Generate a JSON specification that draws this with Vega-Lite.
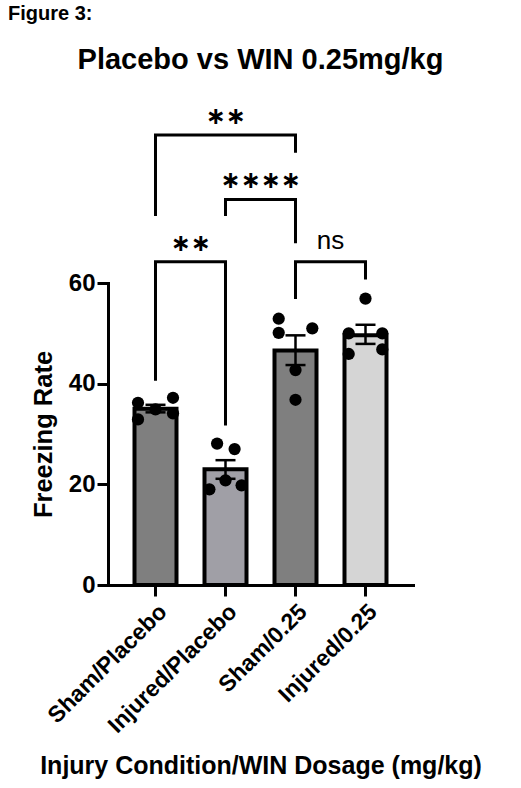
{
  "$schema": "https://vega.github.io/schema/vega-lite/v6.json",
  "padding": {"left": 8, "top": 3, "right": 4, "bottom": 4},
  "title": {"text": "Figure 3:", "anchor": "start", "frame": "group", "dx": -100, "fontSize": 20, "font": "Liberation Sans", "fontWeight": "bold", "color": "black", "offset": 22},
  "config": {
    "view": {"stroke": null},
    "font": "Liberation Sans",
    "axisY": {"labelFontSize": 24, "labelFontWeight": "bold", "labelColor": "black", "tickSize": 11, "tickWidth": 3, "tickColor": "black", "domainWidth": 3, "domainColor": "black", "domainCap": "square", "labelPadding": 2, "titleFontSize": 25.5, "titleFontWeight": "bold", "titleColor": "black", "titlePadding": 12, "grid": false},
    "axisX": {"labelAngle": -45, "labelFontSize": 23, "labelFontWeight": "bold", "labelColor": "black", "tickSize": 11, "tickWidth": 3, "tickColor": "black", "domainWidth": 3, "domainColor": "black", "domainCap": "square", "labelPadding": 4, "titleFontSize": 25, "titleFontWeight": "bold", "titleColor": "black", "titlePadding": 16, "grid": false}
  },
  "datasets": {
    "bars": [
      {"group": "Sham/Placebo", "mean": 35.0, "lo": 34.3, "hi": 35.8},
      {"group": "Injured/Placebo", "mean": 23.0, "lo": 21.1, "hi": 24.8},
      {"group": "Sham/0.25", "mean": 46.6, "lo": 43.7, "hi": 49.6},
      {"group": "Injured/0.25", "mean": 49.6, "lo": 47.9, "hi": 51.7}
    ],
    "points": [
      {"group": "Sham/Placebo", "value": 36.2, "jitter": -0.25},
      {"group": "Sham/Placebo", "value": 32.9, "jitter": -0.25},
      {"group": "Sham/Placebo", "value": 34.9, "jitter": 0},
      {"group": "Sham/Placebo", "value": 37.2, "jitter": 0.25},
      {"group": "Sham/Placebo", "value": 34.1, "jitter": 0.25},
      {"group": "Injured/Placebo", "value": 28.1, "jitter": -0.12},
      {"group": "Injured/Placebo", "value": 27.0, "jitter": 0.13},
      {"group": "Injured/Placebo", "value": 19.0, "jitter": -0.23},
      {"group": "Injured/Placebo", "value": 20.8, "jitter": 0},
      {"group": "Injured/Placebo", "value": 19.8, "jitter": 0.23},
      {"group": "Sham/0.25", "value": 52.9, "jitter": -0.24},
      {"group": "Sham/0.25", "value": 50.1, "jitter": -0.24},
      {"group": "Sham/0.25", "value": 51.0, "jitter": 0.24},
      {"group": "Sham/0.25", "value": 42.7, "jitter": 0},
      {"group": "Sham/0.25", "value": 36.8, "jitter": 0},
      {"group": "Injured/0.25", "value": 56.9, "jitter": 0},
      {"group": "Injured/0.25", "value": 50.0, "jitter": -0.24},
      {"group": "Injured/0.25", "value": 50.0, "jitter": 0.24},
      {"group": "Injured/0.25", "value": 45.9, "jitter": -0.24},
      {"group": "Injured/0.25", "value": 46.8, "jitter": 0.24}
    ],
    "brackets": [
      {"bracket": "a", "seq": 1, "group": "Sham/Placebo", "value": 73.3},
      {"bracket": "a", "seq": 2, "group": "Sham/Placebo", "value": 89.4},
      {"bracket": "a", "seq": 3, "group": "Sham/0.25", "value": 89.4},
      {"bracket": "a", "seq": 4, "group": "Sham/0.25", "value": 85.9},
      {"bracket": "b", "seq": 1, "group": "Injured/Placebo", "value": 73.3},
      {"bracket": "b", "seq": 2, "group": "Injured/Placebo", "value": 76.6},
      {"bracket": "b", "seq": 3, "group": "Sham/0.25", "value": 76.6},
      {"bracket": "b", "seq": 4, "group": "Sham/0.25", "value": 67.9},
      {"bracket": "c", "seq": 1, "group": "Sham/Placebo", "value": 40.6},
      {"bracket": "c", "seq": 2, "group": "Sham/Placebo", "value": 64.2},
      {"bracket": "c", "seq": 3, "group": "Injured/Placebo", "value": 64.2},
      {"bracket": "c", "seq": 4, "group": "Injured/Placebo", "value": 31.7},
      {"bracket": "d", "seq": 1, "group": "Sham/0.25", "value": 56.8},
      {"bracket": "d", "seq": 2, "group": "Sham/0.25", "value": 64.2},
      {"bracket": "d", "seq": 3, "group": "Injured/0.25", "value": 64.2},
      {"bracket": "d", "seq": 4, "group": "Injured/0.25", "value": 60.7}
    ],
    "stars": [
      {"label": "∗∗", "group": "Injured/Placebo", "shift": 0, "value": 93.0},
      {"label": "∗∗∗∗", "group": "Injured/Placebo", "shift": 0.5, "value": 80.2},
      {"label": "∗∗", "group": "Sham/Placebo", "shift": 0.5, "value": 67.7}
    ],
    "ns": [
      {"label": "ns", "group": "Sham/0.25", "shift": 0.5, "value": 66.7}
    ]
  },
  "vconcat": [
    {
      "title": {"text": "Placebo vs WIN 0.25mg/kg", "anchor": "middle", "frame": "group", "fontSize": 29, "font": "Liberation Sans", "fontWeight": "bold", "color": "black", "offset": 30},
      "width": 305,
      "height": 302,
      "resolve": {"scale": {"xOffset": "independent"}},
      "layer": [
        {
          "data": {"name": "bars"},
          "mark": {"type": "bar", "stroke": "black", "strokeWidth": 4},
          "encoding": {
            "x": {"field": "group", "type": "nominal", "scale": {"domain": ["Sham/Placebo", "Injured/Placebo", "Sham/0.25", "Injured/0.25"], "paddingInner": 0.4, "paddingOuter": 0.3786}, "axis": {"title": "Injury Condition/WIN Dosage (mg/kg)"}},
            "y": {"field": "mean", "type": "quantitative", "scale": {"domain": [0, 60], "nice": false}, "axis": {"title": "Freezing Rate", "values": [0, 20, 40, 60]}},
            "color": {"field": "group", "type": "nominal", "scale": {"domain": ["Sham/Placebo", "Injured/Placebo", "Sham/0.25", "Injured/0.25"], "range": ["#7f7f7f", "#a09fa6", "#7f7f7f", "#d5d5d5"]}, "legend": null}
          }
        },
        {
          "data": {"name": "bars"},
          "mark": {"type": "rule", "color": "black", "strokeWidth": 2.5},
          "encoding": {
            "x": {"field": "group", "type": "nominal"},
            "y": {"field": "lo", "type": "quantitative"},
            "y2": {"field": "hi"}
          }
        },
        {
          "data": {"name": "bars"},
          "mark": {"type": "tick", "color": "black", "thickness": 2.5, "size": 20, "opacity": 1},
          "encoding": {
            "x": {"field": "group", "type": "nominal"},
            "y": {"field": "lo", "type": "quantitative"}
          }
        },
        {
          "data": {"name": "bars"},
          "mark": {"type": "tick", "color": "black", "thickness": 2.5, "size": 20, "opacity": 1},
          "encoding": {
            "x": {"field": "group", "type": "nominal"},
            "y": {"field": "hi", "type": "quantitative"}
          }
        },
        {
          "data": {"name": "points"},
          "mark": {"type": "point", "filled": true, "color": "black", "opacity": 1, "size": 150},
          "encoding": {
            "x": {"field": "group", "type": "nominal"},
            "xOffset": {"field": "jitter", "type": "quantitative", "scale": {"domain": [-0.5, 0.5], "range": [-14, 56]}},
            "y": {"field": "value", "type": "quantitative"}
          }
        },
        {
          "data": {"name": "brackets"},
          "mark": {"type": "line", "color": "black", "strokeWidth": 3, "strokeJoin": "miter", "strokeCap": "butt"},
          "encoding": {
            "x": {"field": "group", "type": "nominal"},
            "y": {"field": "value", "type": "quantitative"},
            "detail": {"field": "bracket", "type": "nominal"},
            "order": {"field": "seq", "type": "quantitative"}
          }
        },
        {
          "data": {"name": "stars"},
          "mark": {"type": "text", "font": "DejaVu Sans", "fontWeight": "bold", "fontSize": 24, "baseline": "middle", "align": "center", "color": "black"},
          "encoding": {
            "x": {"field": "group", "type": "nominal"},
            "xOffset": {"field": "shift", "type": "quantitative", "scale": {"domain": [-0.5, 0.5], "range": [-14, 56]}},
            "y": {"field": "value", "type": "quantitative"},
            "text": {"field": "label"}
          }
        },
        {
          "data": {"name": "ns"},
          "mark": {"type": "text", "font": "Liberation Sans", "fontSize": 26, "baseline": "alphabetic", "align": "center", "color": "black"},
          "encoding": {
            "x": {"field": "group", "type": "nominal"},
            "xOffset": {"field": "shift", "type": "quantitative", "scale": {"domain": [-0.5, 0.5], "range": [-14, 56]}},
            "y": {"field": "value", "type": "quantitative"},
            "text": {"field": "label"}
          }
        }
      ]
    }
  ]
}
